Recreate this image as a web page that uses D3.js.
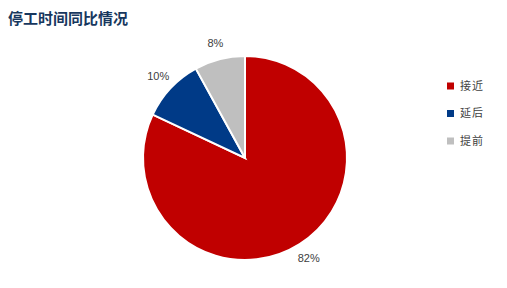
<!DOCTYPE html>
<html><head><meta charset="utf-8">
<script src="https://cdn.jsdelivr.net/npm/d3@7"></script>
<style>body{margin:0;background:#fff}</style>
</head><body>
<svg id="c" width="507" height="288"></svg>
<script>
const categories = ["接近", "延后", "提前"];
const values = [82, 10, 8];
const labels = ["82%", "10%", "8%"];
const colors = ["#c00000", "#003a87", "#bfbfbf"];

const svg = d3.select("#c");
svg.append("text").attr("x", 8).attr("y", 24)
  .attr("font-family", "Noto Sans CJK SC").attr("font-weight", "bold")
  .attr("font-size", 15).attr("fill", "#17375e").text("停工时间同比情况");

const cx = 245, cy = 158, R = 102;
const pie = d3.pie().sort(null).value(d => d)(values);
const arc = d3.arc().innerRadius(0).outerRadius(R);
const labelArc = d3.arc().innerRadius(119).outerRadius(119);
const g = svg.append("g").attr("transform", `translate(${cx},${cy})`);
g.selectAll("path").data(pie).join("path")
  .attr("d", arc).attr("fill", (d, i) => colors[i])
  .attr("stroke", "#fff").attr("stroke-width", 2);
g.selectAll("text").data(pie).join("text")
  .attr("transform", d => `translate(${labelArc.centroid(d)})`)
  .attr("text-anchor", "middle").attr("dy", "0.35em")
  .attr("font-family", "Liberation Sans, Arial").attr("font-size", 11)
  .attr("fill", "#404040").text((d, i) => labels[i]);

const lg = svg.append("g");
const y = d3.scalePoint().domain(categories).range([86, 141]);
categories.forEach((c, i) => {
  lg.append("rect").attr("x", 447).attr("y", y(c) - 3.5).attr("width", 7).attr("height", 7).attr("fill", colors[i]);
  lg.append("text").attr("x", 460).attr("y", y(c)).attr("dy", "0.35em")
    .attr("font-family", "Noto Sans CJK SC").attr("font-size", 11).attr("fill", "#404040")
    .attr("letter-spacing", 1).text(c);
});
</script>
</body></html>
